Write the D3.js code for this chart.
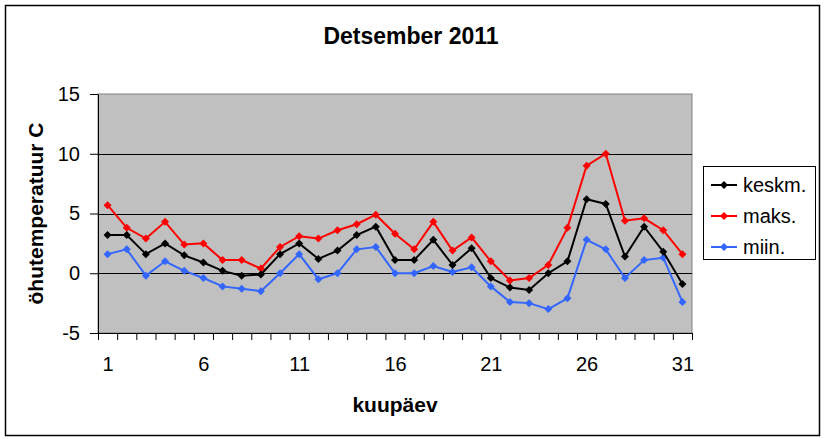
<!DOCTYPE html>
<html>
<head>
<meta charset="utf-8">
<script src="https://cdn.jsdelivr.net/npm/d3@7"></script>
<style>
  body { margin: 0; background: #fff; }
  text { font-family: Arial, "Liberation Sans", sans-serif; }
</style>
</head>
<body>
<svg></svg>
<script>
// Data
const days = d3.range(1, 32);
const keskm = [3.2, 3.2, 1.6, 2.5, 1.5, 0.9, 0.2, -0.2, -0.1, 1.6, 2.5, 1.2, 1.9, 3.2, 3.9, 1.1,
               1.1, 2.8, 0.7, 2.1, -0.4, -1.2, -1.4, 0.0, 1.0, 6.2, 5.8, 1.4, 3.9, 1.8, -0.9];
const maks = [5.7, 3.8, 2.9, 4.3, 2.4, 2.5, 1.1, 1.1, 0.4, 2.2, 3.1, 2.9, 3.6, 4.1, 4.9, 3.3,
              2.0, 4.3, 1.9, 3.0, 1.0, -0.6, -0.4, 0.7, 3.8, 9.0, 10.0, 4.4, 4.6, 3.6, 1.6];
const miin = [1.6, 2.0, -0.2, 1.0, 0.2, -0.4, -1.1, -1.3, -1.5, 0.0, 1.6, -0.5, 0.0, 2.0, 2.2, 0.0,
              0.0, 0.6, 0.1, 0.5, -1.1, -2.4, -2.5, -3.0, -2.1, 2.8, 2.0, -0.4, 1.1, 1.3, -2.4];
const seriesNames = ["keskm.", "maks.", "miin."];
const yTicks = [-5, 0, 5, 10, 15];
const xLabels = [1, 6, 11, 16, 21, 26, 31];

const width = 825;
const height = 439;

const svg = d3.select("svg")
    .attr("width", width)
    .attr("height", height);

// Outer chart border
svg.append("rect")
    .attr("x", 5.5).attr("y", 5.5)
    .attr("width", 814).attr("height", 430)
    .attr("fill", "#fff")
    .attr("stroke", "#000")
    .attr("stroke-width", 1.5);

const plot = { left: 98, right: 692, top: 94, bottom: 333 };

const x = d3.scaleLinear()
    .domain([0.5, 31.5])
    .range([plot.left, plot.right]);

const y = d3.scaleLinear()
    .domain([-5, 15])
    .range([plot.bottom, plot.top]);

// Plot background
svg.append("rect")
    .attr("x", plot.left).attr("y", plot.top)
    .attr("width", plot.right - plot.left)
    .attr("height", plot.bottom - plot.top)
    .attr("fill", "#c0c0c0")
    .attr("stroke", "#808080");

// Gridlines
svg.append("g")
    .selectAll("line")
    .data(yTicks.filter(d => d > -5 && d < 15))
    .enter().append("line")
    .attr("x1", plot.left).attr("x2", plot.right)
    .attr("y1", d => Math.round(y(d)) + 0.5)
    .attr("y2", d => Math.round(y(d)) + 0.5)
    .attr("stroke", "#000");

// Y axis (plain hyphen for negatives, like the original)
const yAxis = svg.append("g")
    .attr("transform", `translate(${plot.left},0)`)
    .call(d3.axisLeft(y).tickValues(yTicks).tickSize(8).tickPadding(10).tickSizeOuter(0)
        .tickFormat(d => String(d)));

yAxis.selectAll("text")
    .attr("font-size", 20)
    .attr("fill", "#000");

// X axis: ticks between categories
svg.append("g")
    .attr("transform", `translate(0,${plot.bottom})`)
    .call(d3.axisBottom(x).tickValues(d3.range(0.5, 32, 1)).tickSize(7).tickFormat("").tickSizeOuter(0));

// X axis labels every 5th day
const xAxisLabels = svg.append("g")
    .attr("transform", `translate(0,${plot.bottom})`)
    .call(d3.axisBottom(x).tickValues(xLabels).tickSize(0).tickPadding(24).tickFormat(d => String(d)));

xAxisLabels.select(".domain").remove();
xAxisLabels.selectAll("text")
    .attr("font-size", 20)
    .attr("fill", "#000");

svg.selectAll(".domain").attr("stroke", "#000");

// Series
const series = [
    { name: seriesNames[0], values: keskm, color: "#000000" },
    { name: seriesNames[1], values: maks, color: "#ff0000" },
    { name: seriesNames[2], values: miin, color: "#3366ff" }
];

const diamond = "M0,-4L4,0L0,4L-4,0Z";

const line = d3.line()
    .x((d, i) => x(days[i]))
    .y(d => y(d));

// Draw in reverse so keskm ends up on top
series.slice().reverse().forEach(s => {
    const g = svg.append("g");
    g.append("path")
        .datum(s.values)
        .attr("fill", "none")
        .attr("stroke", s.color)
        .attr("stroke-width", 2)
        .attr("d", line);
    g.selectAll("path.marker")
        .data(s.values)
        .enter().append("path")
        .attr("class", "marker")
        .attr("d", diamond)
        .attr("fill", s.color)
        .attr("transform", (d, i) => `translate(${x(days[i])},${y(d)})`);
});

// Title
svg.append("text")
    .attr("x", 411).attr("y", 44)
    .attr("text-anchor", "middle")
    .attr("font-size", 23)
    .attr("font-weight", "bold")
    .text("Detsember 2011");

// Axis titles
svg.append("text")
    .attr("x", 395).attr("y", 412)
    .attr("text-anchor", "middle")
    .attr("font-size", 21)
    .attr("font-weight", "bold")
    .text("kuupäev");

svg.append("text")
    .attr("transform", `translate(43,${(plot.top + plot.bottom) / 2}) rotate(-90)`)
    .attr("text-anchor", "middle")
    .attr("font-size", 21)
    .attr("font-weight", "bold")
    .text("öhutemperatuur C");

// Legend
const legend = svg.append("g");
legend.append("rect")
    .attr("x", 703.5).attr("y", 166.5)
    .attr("width", 112).attr("height", 93)
    .attr("fill", "#fff")
    .attr("stroke", "#000");

const item = legend.selectAll("g.item")
    .data(series)
    .enter().append("g")
    .attr("class", "item")
    .attr("transform", (d, i) => `translate(0,${185 + i * 31})`);

item.append("line")
    .attr("x1", 711).attr("x2", 737)
    .attr("stroke", d => d.color)
    .attr("stroke-width", 2);

item.append("path")
    .attr("d", diamond)
    .attr("fill", d => d.color)
    .attr("transform", "translate(724,0)");

item.append("text")
    .attr("x", 743).attr("y", 7)
    .attr("font-size", 20)
    .text(d => d.name);
</script>
</body>
</html>
